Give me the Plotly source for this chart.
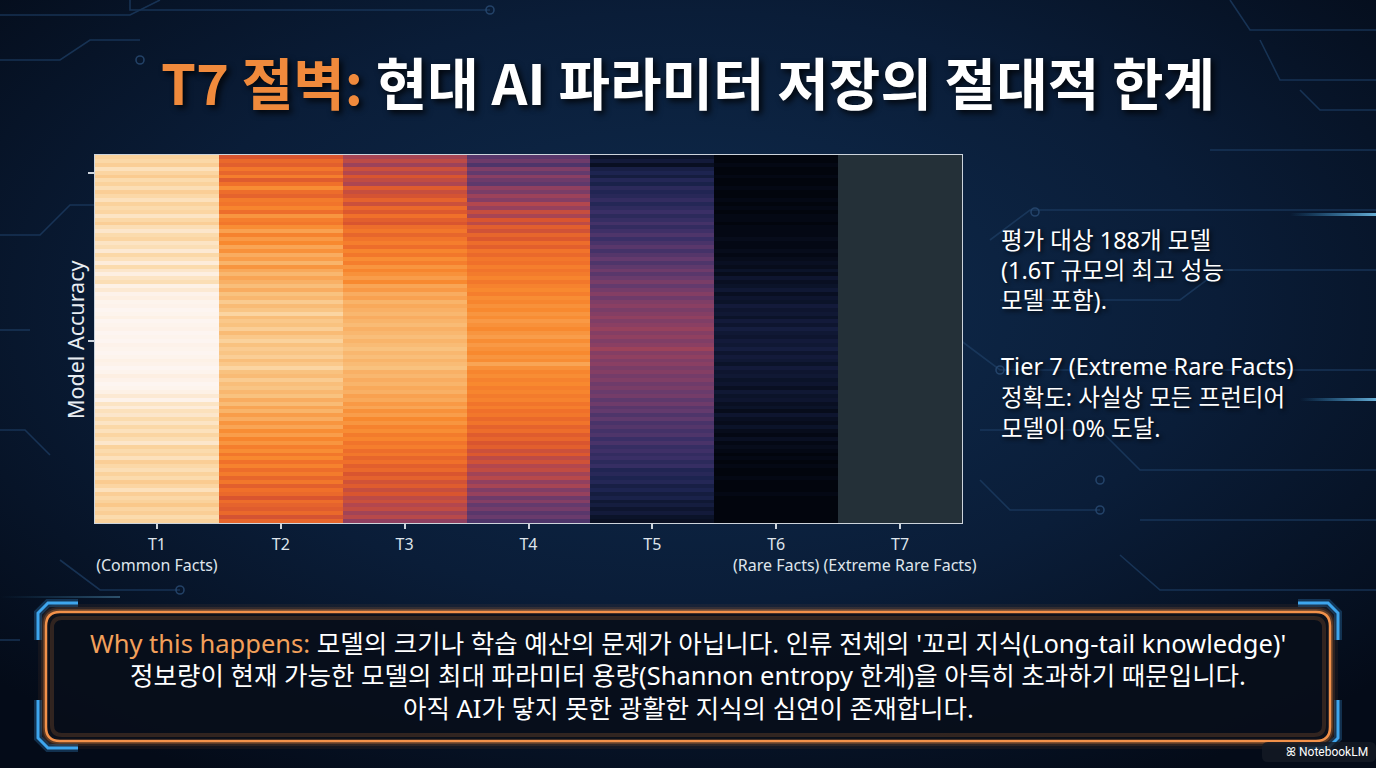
import base64
import plotly.graph_objects as go

# ---------------- data ----------------
TIERS = ["T1", "T2", "T3", "T4", "T5", "T6", "T7"]
TIER_LABELS = ["T1<br>(Common Facts)", "T2", "T3", "T4", "T5",
               "T6<br>(Rare Facts)", "T7<br>(Extreme Rare Facts)"]

T1 = [0.85, 0.87, 0.84, 0.90, 0.86, 0.83, 0.88, 0.85, 0.89, 0.84,
      0.87, 0.90, 0.85, 0.88, 0.86, 0.91, 0.87, 0.84, 0.89, 0.92,
      0.88, 0.86, 0.91, 0.89, 0.93, 0.87, 0.90, 0.94, 0.88, 0.92,
      0.95, 0.91, 0.89, 0.96, 0.93, 0.97, 0.95, 0.98, 0.97, 0.99,
      0.98, 0.96, 0.99, 0.98, 0.97, 0.99, 0.98, 0.99, 0.97, 0.98,
      0.99, 0.98, 0.96, 0.97, 0.99, 0.98, 0.95, 0.97, 0.99, 0.98,
      0.96, 0.93, 0.97, 0.91, 0.94, 0.90, 0.92, 0.88, 0.91, 0.87,
      0.90, 0.86, 0.89, 0.92, 0.85, 0.88, 0.86, 0.90, 0.84, 0.87,
      0.89, 0.85, 0.88, 0.83, 0.86, 0.90, 0.84, 0.87, 0.85, 0.82,
      0.86, 0.84, 0.88, 0.85]
T2 = [0.50, 0.56, 0.53, 0.60, 0.55, 0.62, 0.52, 0.58, 0.66, 0.57,
      0.54, 0.61, 0.59, 0.64, 0.57, 0.68, 0.62, 0.60, 0.66, 0.71,
      0.63, 0.69, 0.65, 0.72, 0.67, 0.74, 0.70, 0.76, 0.68, 0.73,
      0.77, 0.72, 0.75, 0.79, 0.74, 0.80, 0.77, 0.83, 0.78, 0.81,
      0.86, 0.79, 0.82, 0.80, 0.84, 0.78, 0.82, 0.85, 0.80, 0.83,
      0.81, 0.84, 0.79, 0.82, 0.86, 0.80, 0.78, 0.83, 0.79, 0.81,
      0.77, 0.80, 0.74, 0.78, 0.72, 0.76, 0.70, 0.74, 0.68, 0.72,
      0.66, 0.70, 0.64, 0.68, 0.62, 0.66, 0.60, 0.65, 0.58, 0.63,
      0.57, 0.61, 0.55, 0.60, 0.53, 0.58, 0.56, 0.50, 0.57, 0.54,
      0.52, 0.56, 0.49, 0.55]
T3 = [0.40, 0.44, 0.38, 0.47, 0.42, 0.50, 0.45, 0.41, 0.52, 0.46,
      0.49, 0.54, 0.47, 0.56, 0.51, 0.58, 0.53, 0.50, 0.57, 0.60,
      0.55, 0.59, 0.62, 0.57, 0.64, 0.60, 0.66, 0.62, 0.68, 0.64,
      0.67, 0.70, 0.65, 0.72, 0.69, 0.74, 0.71, 0.76, 0.73, 0.75,
      0.77, 0.74, 0.76, 0.78, 0.75, 0.77, 0.79, 0.76, 0.78, 0.80,
      0.77, 0.79, 0.76, 0.78, 0.80, 0.75, 0.77, 0.74, 0.76, 0.73,
      0.75, 0.71, 0.73, 0.69, 0.72, 0.67, 0.70, 0.65, 0.68, 0.63,
      0.66, 0.61, 0.64, 0.59, 0.62, 0.57, 0.60, 0.55, 0.58, 0.53,
      0.56, 0.50, 0.54, 0.48, 0.52, 0.46, 0.50, 0.44, 0.47, 0.42,
      0.45, 0.39, 0.43, 0.36]
T4 = [0.26, 0.30, 0.24, 0.33, 0.28, 0.35, 0.30, 0.27, 0.36, 0.32,
      0.38, 0.34, 0.42, 0.37, 0.46, 0.40, 0.50, 0.44, 0.53, 0.48,
      0.55, 0.51, 0.57, 0.53, 0.59, 0.56, 0.60, 0.58, 0.62, 0.59,
      0.61, 0.64, 0.60, 0.63, 0.65, 0.62, 0.66, 0.64, 0.67, 0.65,
      0.68, 0.66, 0.69, 0.67, 0.65, 0.68, 0.70, 0.66, 0.69, 0.67,
      0.65, 0.68, 0.66, 0.72, 0.67, 0.64, 0.66, 0.63, 0.65, 0.62,
      0.64, 0.61, 0.63, 0.59, 0.62, 0.58, 0.60, 0.56, 0.59, 0.54,
      0.57, 0.52, 0.55, 0.50, 0.53, 0.47, 0.51, 0.44, 0.48, 0.42,
      0.45, 0.39, 0.43, 0.36, 0.40, 0.33, 0.37, 0.30, 0.34, 0.28,
      0.31, 0.26, 0.29, 0.24]
T5 = [0.05, 0.08, 0.04, 0.10, 0.12, 0.09, 0.14, 0.11, 0.16, 0.13,
      0.15, 0.18, 0.14, 0.17, 0.20, 0.16, 0.19, 0.22, 0.18, 0.21,
      0.24, 0.20, 0.23, 0.26, 0.22, 0.25, 0.28, 0.24, 0.27, 0.30,
      0.26, 0.29, 0.32, 0.28, 0.31, 0.34, 0.30, 0.33, 0.35, 0.32,
      0.34, 0.36, 0.33, 0.35, 0.37, 0.34, 0.36, 0.33, 0.35, 0.38,
      0.34, 0.36, 0.33, 0.35, 0.32, 0.34, 0.31, 0.33, 0.30, 0.32,
      0.29, 0.31, 0.27, 0.30, 0.26, 0.28, 0.24, 0.27, 0.23, 0.25,
      0.22, 0.24, 0.20, 0.23, 0.19, 0.21, 0.18, 0.20, 0.16, 0.19,
      0.13, 0.15, 0.12, 0.14, 0.10, 0.12, 0.09, 0.11, 0.07, 0.09,
      0.06, 0.08, 0.05, 0.04]
T6 = [0.01, 0.01, 0.02, 0.01, 0.01, 0.02, 0.01, 0.01, 0.02, 0.01,
      0.01, 0.02, 0.01, 0.02, 0.01, 0.02, 0.02, 0.01, 0.02, 0.02,
      0.02, 0.03, 0.02, 0.02, 0.03, 0.02, 0.03, 0.04, 0.03, 0.05,
      0.03, 0.06, 0.04, 0.05, 0.07, 0.04, 0.06, 0.05, 0.08, 0.06,
      0.07, 0.05, 0.08, 0.06, 0.09, 0.07, 0.06, 0.08, 0.07, 0.09,
      0.06, 0.08, 0.07, 0.05, 0.08, 0.06, 0.07, 0.05, 0.06, 0.04,
      0.07, 0.05, 0.06, 0.04, 0.05, 0.03, 0.06, 0.04, 0.03, 0.05,
      0.03, 0.02, 0.04, 0.02, 0.03, 0.02, 0.01, 0.02, 0.01, 0.02,
      0.01, 0.01, 0.02, 0.01, 0.01, 0.01, 0.02, 0.01, 0.01, 0.01,
      0.01, 0.01, 0.01, 0.01]
T7 = [0.0] * len(T1)   # Tier 7: virtually every model at 0%

ROWS = list(range(len(T1)))
Y_TICKS = [4, 47]

# ---------------- geometry helpers ----------------
W, H = 1376, 768
ML, MR, MT, MB = 95, 414, 155, 245
PW, PH = W - ML - MR, H - MT - MB


def X(px):
    return (px - ML) / PW


def Y(py):
    return 1 - (py - MT) / PH


def rrect(x0, y0, x1, y1, r):
    return (f"M {X(x0 + r)},{Y(y0)} L {X(x1 - r)},{Y(y0)} "
            f"Q {X(x1)},{Y(y0)} {X(x1)},{Y(y0 + r)} L {X(x1)},{Y(y1 - r)} "
            f"Q {X(x1)},{Y(y1)} {X(x1 - r)},{Y(y1)} L {X(x0 + r)},{Y(y1)} "
            f"Q {X(x0)},{Y(y1)} {X(x0)},{Y(y1 - r)} L {X(x0)},{Y(y0 + r)} "
            f"Q {X(x0)},{Y(y0)} {X(x0 + r)},{Y(y0)} Z")


def poly(pts):
    return "M " + " L ".join(f"{X(a)},{Y(b)}" for a, b in pts)


# ---------------- background (gradient + faint circuit traces) ----------------
svg = f"""<svg xmlns='http://www.w3.org/2000/svg' width='{W}' height='{H}'>
<defs>
<radialGradient id='g' cx='50%' cy='40%' r='70%'>
<stop offset='0' stop-color='#0f2c4f'/>
<stop offset='0.55' stop-color='#0a1d38'/>
<stop offset='1' stop-color='#040b18'/>
</radialGradient>
<linearGradient id='c' x1='0' x2='1'><stop offset='0' stop-color='#3fb6ff' stop-opacity='0'/><stop offset='1' stop-color='#7fd4ff' stop-opacity='0.8'/></linearGradient>
</defs>
<rect width='{W}' height='{H}' fill='url(#g)'/>
<g stroke='#1d3d63' stroke-width='1.6' fill='none' opacity='0.75'>
<path d='M0 15 H130 L160 0'/>
<path d='M0 60 H60 L90 40 H140'/>
<path d='M0 235 H40 L70 205 H100'/>
<path d='M0 330 H30'/>
<path d='M0 430 H25 L50 455'/>
<path d='M0 640 H20'/>
<path d='M60 560 L100 590 H180'/>
<path d='M130 0 V10 H490'/>
<path d='M1230 0 L1250 30 H1376'/>
<path d='M1260 40 L1280 80 H1376'/>
<path d='M1300 90 L1320 110 H1376'/>
<path d='M1210 150 H1376'/>
<path d='M990 240 L1030 210 H1376'/>
<path d='M1000 300 H1180 L1220 270 H1376'/>
<path d='M960 340 L1000 370 H1376'/>
<path d='M980 430 H1100 L1140 470 H1376'/>
<path d='M1140 520 H1376'/>
<path d='M1120 555 L1160 590 H1376'/>
<path d='M980 480 L1010 510 H1100'/>
</g>
<g fill='none' stroke='#2a4c75' stroke-width='1.6' opacity='0.8'>
<circle cx='490' cy='10' r='4'/><circle cx='140' cy='60' r='4'/><circle cx='100' cy='205' r='4'/>
<circle cx='180' cy='590' r='4'/><circle cx='1035' cy='212' r='4'/><circle cx='1100' cy='480' r='4'/>
<circle cx='1000' cy='370' r='4'/><circle cx='1100' cy='510' r='4'/>
</g>
<rect x='1290' y='213' width='86' height='3' fill='url(#c)'/>
<rect x='1300' y='398' width='76' height='3' fill='url(#c)'/>
<rect x='0' y='596' width='120' height='2' fill='url(#c)' opacity='0.4'/>
</svg>"""
bg_uri = "data:image/svg+xml;base64," + base64.b64encode(svg.encode()).decode()

# ---------------- figure ----------------
# exact 0% (Tier 7) is shown in slate grey; everything above uses the heat ramp
colorscale = [
    [0.000, "#243038"], [0.004, "#243038"],
    [0.005, "#01030a"], [0.05, "#0b1329"], [0.12, "#1d2450"],
    [0.20, "#3a2f66"], [0.28, "#633a6d"], [0.35, "#8a3f63"],
    [0.42, "#b3474e"], [0.50, "#d9552f"], [0.58, "#f0702a"],
    [0.65, "#f8892f"], [0.72, "#f9a555"], [0.80, "#f9c27f"],
    [0.88, "#fbdbad"], [0.95, "#fdefe2"], [1.00, "#fdf7f5"],
]

tier_cols = [T1, T2, T3, T4, T5, T6, T7]
z = [list(r) for r in zip(*tier_cols)]

fig = go.Figure()
fig.add_trace(go.Heatmap(
    x=TIERS, y=ROWS, z=z, zmin=0, zmax=1,
    colorscale=colorscale, showscale=False, hoverinfo="skip"))

axis_col = "#cdd4dc"
LAT = "Noto Sans, Noto Sans CJK KR"
fig.update_xaxes(
    categoryorder="array", categoryarray=TIERS,
    tickvals=TIERS, ticktext=TIER_LABELS,
    tickfont=dict(family=LAT, size=16, color="#dfe5ec"),
    ticks="outside", ticklen=5, tickcolor=axis_col, tickwidth=1.5,
    ticklabelstandoff=2,
    showline=True, linecolor=axis_col, linewidth=1.3, mirror=True,
    showgrid=False, zeroline=False, range=[-0.5, 6.5])
fig.update_yaxes(
    tickvals=Y_TICKS, ticktext=["", ""], ticks="outside", ticklen=6,
    tickcolor=axis_col, tickwidth=1.5,
    showline=True, linecolor=axis_col, linewidth=1.3, mirror=True,
    showgrid=False, zeroline=False, autorange=False,
    range=[len(T1) - 0.5, -0.5])

shapes = []
# glow + box
for w, op in [(16, 0.06), (10, 0.12), (6, 0.25)]:
    shapes.append(dict(type="path", xref="paper", yref="paper",
                       path=rrect(46, 612, 1330, 741, 14),
                       line=dict(color="#f08a3c", width=w), opacity=op,
                       layer="above"))
shapes.append(dict(type="path", xref="paper", yref="paper",
                   path=rrect(46, 612, 1330, 741, 14),
                   fillcolor="rgba(8,14,26,0.92)",
                   line=dict(color="#f2914a", width=2.5), layer="above"))
shapes.append(dict(type="path", xref="paper", yref="paper",
                   path=rrect(52, 618, 1324, 735, 10),
                   line=dict(color="rgba(240,138,60,0.18)", width=4),
                   layer="above"))
# blue corner brackets
br = [
    [(78, 603), (48, 603), (38, 613), (38, 640)],
    [(38, 700), (38, 738), (48, 748), (78, 748)],
    [(1298, 603), (1328, 603), (1338, 613), (1338, 640)],
    [(1338, 700), (1338, 738), (1328, 748), (1298, 748)],
]
for pts in br:
    shapes.append(dict(type="path", xref="paper", yref="paper", path=poly(pts),
                       line=dict(color="rgba(60,160,235,0.25)", width=8),
                       layer="above"))
    shapes.append(dict(type="path", xref="paper", yref="paper", path=poly(pts),
                       line=dict(color="#3ea6ee", width=3), layer="above"))
# watermark pill
shapes.append(dict(type="path", xref="paper", yref="paper",
                   path=rrect(1262, 742, 1376, 762, 6),
                   fillcolor="rgba(20,26,36,0.85)", line=dict(width=0),
                   layer="above"))

shadow = "2px 2px 4px rgba(0,0,0,0.8)"
annotations = [
    dict(x=X(688), y=Y(80), xref="paper", yref="paper", showarrow=False,
         xanchor="center", yanchor="middle",
         text="<b><span style='color:#f08a3c'>T7 절벽:</span> 현대 AI 파라미터 저장의 절대적 한계</b>",
         font=dict(family="Noto Sans CJK KR", size=56, color="#ffffff",
                   shadow="3px 3px 6px rgba(0,0,0,0.85)")),
    dict(x=X(75), y=Y(340), xref="paper", yref="paper", showarrow=False,
         xanchor="center", yanchor="middle", textangle=-90,
         text="Model Accuracy",
         font=dict(family=LAT, size=21.5, color="#e8edf2")),
]
right_lines = [
    (240, "평가 대상 188개 모델"),
    (270, "(1.6T 규모의 최고 성능"),
    (300, "모델 포함)."),
    (366, "Tier 7 (Extreme Rare Facts)"),
    (397, "정확도: 사실상 모든 프런티어"),
    (428, "모델이 0% 도달."),
]
for yy, t in right_lines:
    annotations.append(dict(
        x=X(999), y=Y(yy), xref="paper", yref="paper", showarrow=False,
        xanchor="left", yanchor="middle", align="left", text=t,
        font=dict(family=LAT, size=23.5, color="#ffffff", shadow=shadow)))

bottom_lines = [
    (643, "<span style='color:#f3a05a'>Why this happens:</span> 모델의 크기나 학습 예산의 문제가 아닙니다. 인류 전체의 '꼬리 지식(Long-tail knowledge)'"),
    (675, "정보량이 현재 가능한 모델의 최대 파라미터 용량(Shannon entropy 한계)을 아득히 초과하기 때문입니다."),
    (708, "아직 AI가 닿지 못한 광활한 지식의 심연이 존재합니다."),
]
for yy, t in bottom_lines:
    annotations.append(dict(
        x=X(688), y=Y(yy), xref="paper", yref="paper", showarrow=False,
        xanchor="center", yanchor="middle", text=t,
        font=dict(family=LAT, size=25.5, color="#ffffff")))
annotations.append(dict(
    x=X(1370), y=Y(752), xref="paper", yref="paper", showarrow=False,
    xanchor="right", yanchor="middle", text="ꕤ NotebookLM",
    font=dict(family="Roboto, Noto Sans", size=12, color="#ffffff")))

fig.update_layout(
    width=W, height=H, autosize=False,
    margin=dict(l=ML, r=MR, t=MT, b=MB, pad=0),
    paper_bgcolor="#071428", plot_bgcolor="rgba(0,0,0,0)",
    images=[dict(source=bg_uri, xref="paper", yref="paper",
                 x=X(0), y=Y(0), sizex=W / PW, sizey=H / PH,
                 xanchor="left", yanchor="top", sizing="stretch",
                 layer="below")],
    shapes=shapes, annotations=annotations, showlegend=False,
)

fig.write_html("out.html", config={"displayModeBar": False},
               post_script="document.body.style.margin='0';")
